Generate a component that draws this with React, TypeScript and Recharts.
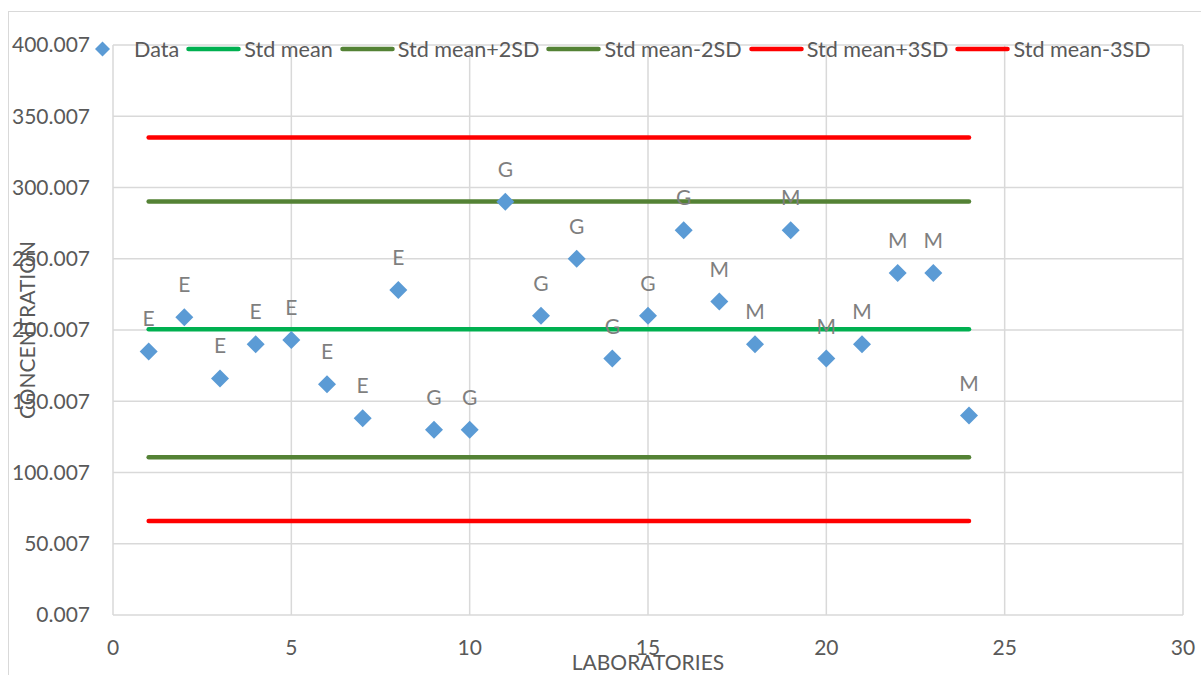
import React from 'react'
import { ComposedChart, Scatter, Line, XAxis, YAxis, CartesianGrid, Legend, LabelList, Label } from 'recharts'

const FONT = 'Lato, "Open Sans", sans-serif'
const TEXT = '#595959'
const GRID = '#D9D9D9'

// laboratory results
const laboratories = [1, 2, 3, 4, 5, 6, 7, 8, 9, 10, 11, 12, 13, 14, 15, 16, 17, 18, 19, 20, 21, 22, 23, 24]
const concentrations = [185, 209, 166, 190, 193, 162, 138, 228, 130, 130, 290, 210, 250, 180, 210, 270, 220, 190, 270, 180, 190, 240, 240, 140]
const methods = ['E', 'E', 'E', 'E', 'E', 'E', 'E', 'E', 'G', 'G', 'G', 'G', 'G', 'G', 'G', 'G', 'M', 'M', 'M', 'M', 'M', 'M', 'M', 'M']

// control limits
const limitNames = ['Std mean', 'Std mean+2SD', 'Std mean-2SD', 'Std mean+3SD', 'Std mean-3SD']
const limitValues = [200.46, 290.17, 110.75, 335.02, 65.89]
const limitColors = ['#00B050', '#548235', '#548235', '#FF0000', '#FF0000']

const xTicks = [0, 5, 10, 15, 20, 25, 30]
const yTicks = [0.007, 50.007, 100.007, 150.007, 200.007, 250.007, 300.007, 350.007, 400.007]

const points = laboratories.map((lab, i) => ({ x: lab, y: concentrations[i], method: methods[i] }))
const limits = limitNames.map((name, i) => ({
  name,
  color: limitColors[i],
  data: [
    { x: laboratories[0], y: limitValues[i] },
    { x: laboratories[laboratories.length - 1], y: limitValues[i] },
  ],
}))

const Diamond = (p: any) => {
  const { cx, cy } = p
  const r = 9
  return <polygon points={`${cx},${cy - r} ${cx + r},${cy} ${cx},${cy + r} ${cx - r},${cy}`} fill="#5B9BD5" />
}

const MethodLabel = (p: any) => {
  const vb = p.viewBox ?? p
  const cx = vb.x + (vb.width ?? 0) / 2
  const cy = vb.y + (vb.height ?? 0) / 2
  return (
    <text x={cx} y={cy - 25} textAnchor="middle" fill="#7F7F7F" fontSize={21} fontFamily={FONT}>
      {p.value}
    </text>
  )
}

const renderLegend = () => (
  <div style={{ display: 'flex', alignItems: 'center', height: 26, fontFamily: FONT, fontSize: 21.6, color: TEXT, whiteSpace: 'nowrap' }}>
    <svg width={55} height={26}>
      <polygon points="27.5,18 35,10.5 27.5,3 20,10.5" transform="translate(0,2.5)" fill="#5B9BD5" />
    </svg>
    <span style={{ marginLeft: 4, marginRight: 7 }}>Data</span>
    {limits.map(l => (
      <React.Fragment key={l.name}>
        <svg width={55} height={26}>
          <line x1={2.5} x2={52.5} y1={13} y2={13} stroke={l.color} strokeWidth={4.5} strokeLinecap="round" />
        </svg>
        <span style={{ marginLeft: 3, marginRight: 7 }}>{l.name}</span>
      </React.Fragment>
    ))}
  </div>
)

export default function App() {
  return (
    <div style={{ position: 'absolute', left: 0, top: 0, width: 1201, height: 675, overflow: 'hidden', background: '#fff' }}>
      <div style={{ position: 'absolute', left: 8, top: 11, width: 1300, height: 800, border: `1px solid ${GRID}` }} />
      <div style={{ position: 'absolute', left: 0, top: 0 }}>
        <ComposedChart width={1201} height={675} margin={{ top: 45, right: 18, bottom: 30, left: 13 }}>
          <CartesianGrid stroke={GRID} strokeWidth={1.5} />
          <XAxis
            type="number"
            dataKey="x"
            domain={[0, 30]}
            ticks={xTicks}
            interval={0}
            height={30}
            axisLine={false}
            tickLine={false}
            tickSize={6}
            tickMargin={19}
            tick={{ fill: TEXT, fontSize: 21, fontFamily: FONT }}
          >
            <Label
              content={(p: any) => (
                <text x={p.viewBox.x + p.viewBox.width / 2} y={670} textAnchor="middle" fill={TEXT} fontSize={21} fontFamily={FONT}>
                  LABORATORIES
                </text>
              )}
            />
          </XAxis>
          <YAxis
            type="number"
            dataKey="y"
            domain={[0.007, 400.007]}
            ticks={yTicks}
            interval={0}
            width={100}
            axisLine={false}
            tickLine={false}
            tickSize={6}
            tickMargin={17}
            tickFormatter={(v: number) => v.toFixed(3)}
            tick={{ fill: TEXT, fontSize: 21, fontFamily: FONT }}
          >
            <Label
              content={(p: any) => {
                const x = 35
                const y = p.viewBox.y + p.viewBox.height / 2
                return (
                  <text x={x} y={y} transform={`rotate(-90 ${x} ${y})`} textAnchor="middle" fill={TEXT} fontSize={21} fontFamily={FONT}>
                    CONCENTRATION
                  </text>
                )
              }}
            />
          </YAxis>
          <Legend
            layout="horizontal"
            verticalAlign="middle"
            align="center"
            content={renderLegend}
            wrapperStyle={{ top: 36, left: 75, width: 1120, height: 26 }}
          />
          {limits.map(l => (
            <Line
              key={l.name}
              name={l.name}
              data={l.data}
              dataKey="y"
              stroke={l.color}
              strokeWidth={4.5}
              strokeLinecap="round"
              dot={false}
              activeDot={false}
              isAnimationActive={false}
            />
          ))}
          <Scatter name="Data" data={points} dataKey="y" shape={<Diamond />} isAnimationActive={false}>
            <LabelList dataKey="method" content={<MethodLabel />} />
          </Scatter>
        </ComposedChart>
      </div>
    </div>
  )
}
